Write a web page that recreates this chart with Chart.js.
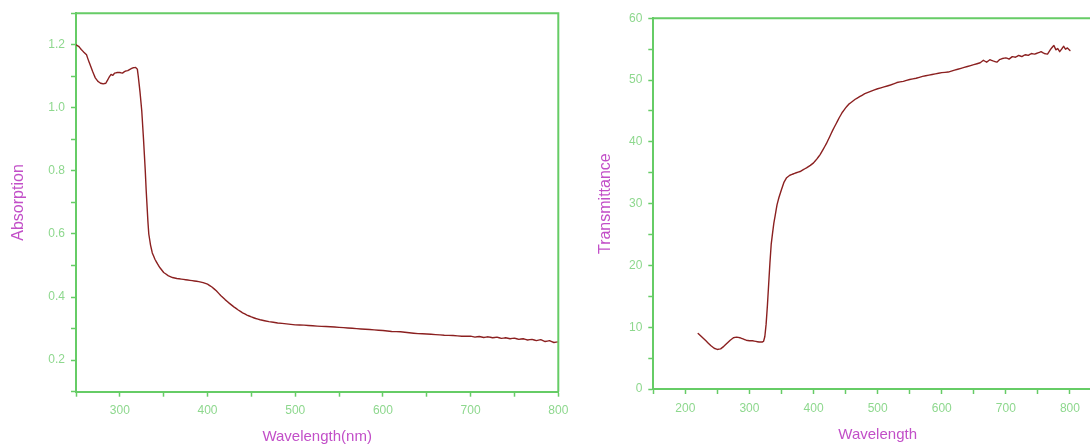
<!DOCTYPE html>
<html>
<head>
<meta charset="utf-8">
<script src="https://cdn.jsdelivr.net/npm/chart.js@4.4.1/dist/chart.umd.min.js"></script>
<style>
  html, body { margin: 0; padding: 0; background: #ffffff; width: 1090px; height: 446px; overflow: hidden; position: relative; }
  canvas { position: absolute; top: 0; }
  #absChart { left: 0; }
  #trChart { left: 560px; }
</style>
</head>
<body>
<canvas id="absChart" width="580" height="446"></canvas>
<canvas id="trChart" width="560" height="446"></canvas>
<script>
// ---- Data: left panel (absorption) ----
const absWavelength = [
  250, 253, 256, 259, 262, 264, 266, 269, 272, 275, 278, 281, 284, 286, 288, 290, 292, 294, 297, 300,
  303, 306, 309, 312, 315, 318, 320, 321, 322, 323, 324, 325, 326, 327, 328, 329, 330, 331, 332, 333,
  335, 337, 340, 343, 346, 350, 355, 360, 365, 370, 375, 380, 385, 390, 395, 400, 405, 410, 415, 420,
  425, 430, 435, 440, 445, 450, 455, 460, 470, 480, 490, 500, 510, 520, 530, 540, 550, 560, 570, 580,
  590, 600, 610, 620, 630, 640, 650, 660, 670, 680, 690, 700, 705, 710, 715, 720, 725, 730, 735, 740,
  745, 750, 755, 760, 765, 770, 775, 780, 785, 790, 795, 800
];
const absorption = [
  1.200, 1.195, 1.185, 1.176, 1.168, 1.152, 1.137, 1.115, 1.095, 1.084, 1.078, 1.076, 1.078, 1.088, 1.098, 1.106, 1.103, 1.110, 1.112, 1.112,
  1.110, 1.116, 1.118, 1.123, 1.127, 1.128, 1.122, 1.100, 1.075, 1.050, 1.020, 0.990, 0.945, 0.900, 0.850, 0.800, 0.740, 0.690, 0.640, 0.600,
  0.565, 0.540, 0.520, 0.505, 0.492, 0.478, 0.468, 0.462, 0.459, 0.457, 0.455, 0.453, 0.451, 0.449, 0.446, 0.441, 0.432, 0.420, 0.405, 0.392,
  0.380, 0.369, 0.359, 0.350, 0.343, 0.337, 0.332, 0.328, 0.322, 0.318, 0.315, 0.312, 0.311, 0.309, 0.307, 0.306, 0.304, 0.302, 0.300, 0.298,
  0.296, 0.294, 0.291, 0.290, 0.287, 0.284, 0.283, 0.281, 0.279, 0.278, 0.276, 0.276, 0.273, 0.275, 0.272, 0.274, 0.271, 0.273, 0.269, 0.271,
  0.268, 0.270, 0.266, 0.268, 0.264, 0.266, 0.262, 0.265, 0.259, 0.262, 0.256, 0.258
];

// ---- Data: right panel (transmittance) ----
const trWavelength = [
  220, 225, 230, 235, 240, 245, 250, 255, 260, 265, 270, 275, 280, 285, 290, 295, 300, 305, 310, 315,
  320, 322, 324, 326, 328, 330, 332, 334, 336, 338, 340, 343, 346, 350, 354, 358, 363, 368, 373, 379,
  384, 389, 395, 400, 405, 410, 415, 420, 425, 430, 435, 440, 445, 450, 455, 460, 465, 470, 475, 480,
  490, 500, 510, 520, 530, 540, 550, 560, 570, 580, 590, 600, 610, 620, 630, 640, 650, 660, 665, 670,
  675, 680, 686, 690, 695, 700, 705, 710, 715, 720, 725, 730, 735, 740, 745, 750, 755, 760, 765, 770,
  775, 778, 781, 784, 787, 790, 793, 796, 800
];
const transmittance = [
  9.0, 8.5, 8.0, 7.5, 7.0, 6.6, 6.4, 6.5, 6.9, 7.4, 7.9, 8.3, 8.4, 8.3, 8.1, 7.9, 7.8, 7.8, 7.7, 7.6,
  7.6, 7.7, 8.5, 10.5, 13.5, 17.0, 20.5, 23.5, 25.2, 26.8, 28.0, 29.8, 31.0, 32.3, 33.5, 34.2, 34.6, 34.8, 35.0, 35.2,
  35.5, 35.8, 36.2, 36.6, 37.2, 37.9, 38.8, 39.7, 40.8, 41.9, 42.9, 43.9, 44.8, 45.5, 46.1, 46.5, 46.9, 47.2, 47.5, 47.8,
  48.2, 48.6, 48.9, 49.2, 49.6, 49.8, 50.1, 50.3, 50.6, 50.8, 51.0, 51.2, 51.3, 51.6, 51.9, 52.2, 52.5, 52.8, 53.2, 52.9,
  53.3, 53.1, 52.9, 53.3, 53.5, 53.6, 53.4, 53.8, 53.7, 54.0, 53.8, 54.1, 54.0, 54.3, 54.2, 54.4, 54.6, 54.3, 54.2, 55.0,
  55.6, 54.9, 55.1, 54.6, 55.0, 55.5, 55.0, 55.2, 54.8
];

// ---- Axis labels ----
const absXTitle = 'Wavelength(nm)';
const absYTitle = 'Absorption';
const trXTitle = 'Wavelength';
const trYTitle = 'Transmittance';

// ---- Style ----
const AXIS_GREEN = '#66cc66';
const TICK_GREEN = '#8ed88e';
const TITLE_MAGENTA = '#c24fc8';
const LINE_RED = '#8b2020';

const framePlugin = {
  id: 'frame',
  afterDraw(chart) {
    const { ctx, chartArea: a } = chart;
    ctx.save();
    ctx.strokeStyle = AXIS_GREEN;
    ctx.lineWidth = 2;
    ctx.beginPath();
    ctx.moveTo(a.left, a.top);
    ctx.lineTo(a.right, a.top);
    ctx.lineTo(a.right, a.bottom);
    ctx.stroke();
    ctx.restore();
  }
};

function zip(xs, ys) { return xs.map((x, i) => ({ x: x, y: ys[i] })); }

function makeChart(id, cfg) {
  return new Chart(document.getElementById(id), {
    type: 'line',
    data: {
      datasets: [{
        data: zip(cfg.xs, cfg.ys),
        borderColor: LINE_RED,
        borderWidth: 1.4,
        borderJoinStyle: 'round',
        borderCapStyle: 'round',
        pointRadius: 0,
        tension: 0.001,
        fill: false
      }]
    },
    options: {
      responsive: false,
      animation: false,
      devicePixelRatio: 1,
      layout: { padding: cfg.padding },
      plugins: { legend: { display: false }, tooltip: { enabled: false } },
      scales: {
        x: {
          type: 'linear',
          position: 'bottom',
          min: cfg.xMin, max: cfg.xMax,
          afterFit: s => { s.height = cfg.xHeight; },
          border: { color: AXIS_GREEN, width: 2 },
          grid: { drawOnChartArea: false, drawTicks: true, tickLength: 5, tickColor: AXIS_GREEN, tickWidth: 1.5 },
          ticks: {
            stepSize: 50, autoSkip: false, maxRotation: 0, padding: 7,
            color: TICK_GREEN,
            font: { family: 'Liberation Sans, Arial, sans-serif', size: 12 },
            callback: v => (Math.round(v) % 100 === 0 ? String(Math.round(v)) : '')
          },
          title: {
            display: true, text: cfg.xTitle, color: TITLE_MAGENTA,
            font: { family: 'Liberation Sans, Arial, sans-serif', size: 15 },
            padding: { top: 0, bottom: cfg.xTitlePad }
          }
        },
        y: {
          type: 'linear',
          position: 'left',
          min: cfg.yMin, max: cfg.yMax,
          afterFit: s => { s.width = cfg.yWidth; },
          border: { color: AXIS_GREEN, width: 2 },
          grid: { drawOnChartArea: false, drawTicks: true, tickLength: 5, tickColor: AXIS_GREEN, tickWidth: 1.5 },
          ticks: {
            stepSize: cfg.yStep, autoSkip: false, padding: 6,
            color: TICK_GREEN,
            font: { family: 'Liberation Sans, Arial, sans-serif', size: 12 },
            callback: cfg.yLabel
          },
          title: {
            display: true, text: cfg.yTitle, color: TITLE_MAGENTA,
            font: { family: 'Liberation Sans, Arial, sans-serif', size: 16 },
            padding: { top: cfg.yTitlePad, bottom: 0 }
          }
        }
      }
    },
    plugins: [framePlugin]
  });
}

makeChart('absChart', {
  xs: absWavelength, ys: absorption,
  xMin: 250, xMax: 800, yMin: 0.1, yMax: 1.3, yStep: 0.1,
  yLabel: v => { const k = Math.round(v * 10); return k % 2 === 0 ? (k / 10).toFixed(1) : ''; },
  xTitle: absXTitle, yTitle: absYTitle,
  padding: { left: 0, top: 10.7, right: 21.7, bottom: 0 },
  yWidth: 76, xHeight: 54.3, xTitlePad: 0, yTitlePad: 9
});

makeChart('trChart', {
  xs: trWavelength, ys: transmittance,
  xMin: 150, xMax: 850, yMin: 0, yMax: 60, yStep: 5,
  yLabel: v => { const k = Math.round(v); return k % 10 === 0 ? String(k) : ''; },
  xTitle: trXTitle, yTitle: trYTitle,
  padding: { left: 0, top: 18.3, right: 18, bottom: 0 },
  yWidth: 93.3, xHeight: 57, xTitlePad: 2, yTitlePad: 36
});
</script>
</body>
</html>
